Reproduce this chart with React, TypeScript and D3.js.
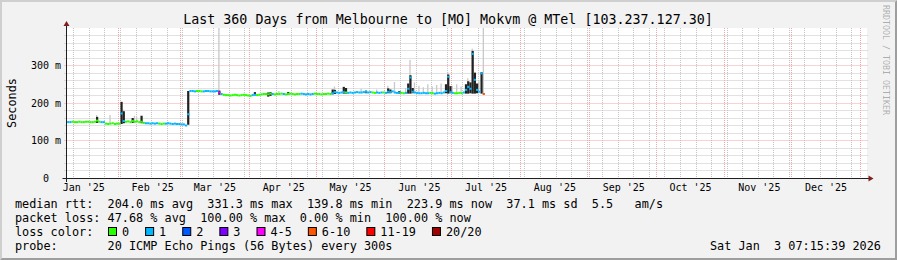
import React from "react";
import * as d3 from "d3";

const W = 897;
const H = 260;
const FONT = "'DejaVu Sans Mono', monospace";

const title = "Last 360 Days from Melbourne to [MO] Mokvm @ MTel [103.237.127.30]";
const yTickValues = [0, 100, 200, 300];
const yTickLabels = ["0", "100 m", "200 m", "300 m"];
const yMinorStep = 20;
const yMax = 400;

// time window of the graph (UTC)
const windowStart = "2025-01-08T17:17:00Z";
const windowDays = 360;

// daily samples, first sample on this day
const firstSample = "2025-01-08";
// median rtt in ms, one value per day
const medianMs = [
  150, 149, 149, 150, 149, 149, 150, 149, 149, 150, 150, 149, 149, 150, 153, 150, 149, 149,
  145, 144, 145, 146, 144, 145, 145,
  172, 152, 150, 151, 149, 152, 150, 151, 149, 150,
  147, 146, 146, 145, 146, 145, 146, 145, 144, 145, 145, 146, 145, 144, 145, 144, 144, 143, 143, 140,
  170,
  232, 232, 231, 232, 232, 231, 231, 232, 232, 231, 231, 231, 232,
  228,
  224, 222, 221, 221, 220, 221, 222, 221, 220, 221, 222, 221, 220, 219, 221, 222, 221, 222,
  223, 224, 224, 223, 225, 224, 223, 224, 224, 225, 224, 223, 224, 225, 224, 223, 224, 224,
  225, 224, 223, 224, 223, 224, 225, 224, 224, 223, 224, 224, 225, 224,
  226, 229, 228, 227, 228, 229, 228, 227, 228, 227, 228, 229, 228, 228, 229, 230, 228, 229,
  228, 227, 228, 227, 228, 228, 227, 230, 229, 231, 228, 227, 228, 227, 226, 227,
  238, 268, 230, 228, 227, 226, 226, 227, 226, 226, 227, 226, 225, 226, 227, 226, 228, 232,
  270, 229, 227, 226, 226, 227, 226, 228, 235, 243, 238, 331, 262, 235, 230, 279, 224,
];
// loss category per day (index into lossLabels)
const lossCat = [
  1, 1, 1,
  0, 0, 0, 0, 0, 0, 0, 0, 0, 0, 0, 0, 0,
  1, 1,
  0, 0, 0, 0, 0, 0, 0,
  1, 1,
  0, 0, 0, 0, 0, 0, 0, 0, 0,
  1, 1, 1, 1, 1, 1,
  0, 0, 0,
  1, 1, 1, 1, 1, 1, 1, 1, 1, 1, 1,
  1, 1, 1, 0, 0, 0, 1, 1, 1, 1, 1, 1, 1,
  4,
  1,
  0, 0, 0, 0, 0, 0, 0, 0, 0, 0, 0, 0, 0,
  1, 1,
  0, 0, 0, 0, 0, 0, 0, 1, 0, 0, 0, 0, 1, 0, 0, 0, 0, 0, 0, 0,
  1, 1, 1, 1, 1, 1,
  0, 0, 0, 0, 0, 0, 0, 0,
  1, 1, 1, 1, 1, 1, 0, 1, 1, 1, 1, 1, 1, 1, 1, 1, 1, 1, 0, 0, 1, 1, 1, 0, 1, 1, 1, 1, 1, 1, 1,
  0, 0,
  1, 1, 1, 1, 1, 1, 1, 1, 1, 1, 1,
  0, 0,
  1, 1, 1, 1, 1, 1, 1, 1, 1,
  0, 0, 0, 0,
  1, 1, 1, 1, 1, 1, 1, 1,
  1,
  5,
];

// dense (dark) smoke: day, low ms, high ms
const darkSmokeDays = [
  "2025-01-22", "2025-02-02", "2025-02-03", "2025-02-07", "2025-02-11", "2025-03-04", "2025-03-18",
  "2025-04-03", "2025-04-09", "2025-04-10", "2025-04-18", "2025-05-08", "2025-05-09", "2025-05-13",
  "2025-05-14", "2025-05-23", "2025-06-02", "2025-06-03", "2025-06-07", "2025-06-11", "2025-06-12",
  "2025-06-13", "2025-06-28", "2025-06-29", "2025-06-30", "2025-07-07", "2025-07-08", "2025-07-09",
  "2025-07-10", "2025-07-11", "2025-07-12", "2025-07-14",
];
const darkSmokeLow = [
  147, 144, 146, 147, 146, 142, 222, 221, 217, 219, 222, 223, 224, 225, 225, 226, 226, 226, 225, 225,
  225, 226, 226, 225, 226, 225, 225, 226, 225, 225, 226, 225,
];
const darkSmokeHigh = [
  163, 203, 178, 160, 166, 232, 233, 229, 228, 229, 229, 236, 235, 243, 240, 233, 239, 236, 232, 252,
  274, 240, 250, 276, 245, 250, 258, 255, 339, 281, 252, 282,
];
// light smoke: day, low ms, high ms
const lightSmokeDays = [
  "2025-01-22", "2025-01-28", "2025-02-03", "2025-02-08", "2025-02-09", "2025-03-18", "2025-04-14",
  "2025-05-09", "2025-05-21", "2025-05-28", "2025-06-02", "2025-06-05", "2025-06-10", "2025-06-12",
  "2025-06-14", "2025-06-16", "2025-06-18", "2025-06-20", "2025-06-22", "2025-06-24", "2025-06-26",
  "2025-06-29", "2025-07-01", "2025-07-03", "2025-07-05", "2025-07-08", "2025-07-10", "2025-07-13",
  "2025-07-15",
];
const lightSmokeLow = [
  148, 144, 146, 148, 148, 222, 222, 224, 226, 226, 226, 226, 226, 225, 226, 226, 226, 226, 226, 226,
  226, 226, 226, 226, 226, 225, 225, 226, 224,
];
const lightSmokeHigh = [
  168, 168, 182, 166, 162, 400, 232, 244, 238, 236, 246, 256, 240, 315, 255, 246, 242, 250, 244, 248,
  252, 282, 246, 250, 244, 266, 345, 258, 400,
];

const lossLabels = ["0", "1", "2", "3", "4-5", "6-10", "11-19", "20/20"];
const lossColors = ["#26ff00", "#00b8ff", "#0059ff", "#7e00ff", "#ff00ff", "#ff5500", "#ff0000", "#a00000"];

const medianLegend = "median rtt:  204.0 ms avg  331.3 ms max  139.8 ms min  223.9 ms now  37.1 ms sd  5.5   am/s";
const lossLegend = "packet loss: 47.68 % avg  100.00 % max  0.00 % min  100.00 % now";
const probeLegend = "probe:       20 ICMP Echo Pings (56 Bytes) every 300s";
const stamp = "Sat Jan  3 07:15:39 2026";
const unitLabel = "Seconds";
const watermark = "RRDTOOL / TOBI OETIKER";

const DAY = 86400000;
const X0 = 66.5;
const XSIZE = 800;
const YTOP = 28;
const YBOT = 178;
const LEG_FS = 11.83;
const CW = LEG_FS * 0.602;

export default function App() {
  const t0 = new Date(windowStart);
  const t1 = new Date(t0.getTime() + windowDays * DAY);
  const x = d3.scaleUtc().domain([t0, t1]).range([X0, X0 + XSIZE]);
  const y = d3.scaleLinear().domain([0, yMax]).range([YBOT, YTOP]);
  const gx = (t: Date) => Math.floor(x(t)) + 0.5;
  const gy = (v: number) => Math.floor(y(v)) + 0.5;

  const first = new Date(firstSample + "T00:00:00Z").getTime();
  const samples = medianMs.map((m, i) => ({
    t0: new Date(first + i * DAY),
    t1: new Date(first + (i + 1) * DAY),
    m,
    c: lossCat[i] ?? 0,
  }));

  const weeks = d3.utcSunday.range(t0, t1);
  const months = d3.utcMonth.range(d3.utcMonth.offset(d3.utcMonth.floor(t0), 1), t1);
  const labelMonths = d3
    .utcMonth.range(d3.utcMonth.floor(t0), t1)
    .map((m) => ({ m, cx: x(new Date(m.getTime() + 15.5 * DAY)) }))
    .filter((l) => l.cx < X0 + XSIZE);
  const fmt = d3.utcFormat("%b '%y");
  const minorVals = d3.range(yMinorStep, yMax, yMinorStep).filter((v) => v % 100 !== 0);
  const majorVals = yTickValues.filter((v) => v > 0);

  const dayW = x(new Date(first + DAY)) - x(new Date(first));
  const dayStart = (s: string) => new Date(s + "T00:00:00Z");

  // legend box positions
  const boxes: { x: number; label: string; color: string }[] = [];
  let bx = 108;
  lossLabels.forEach((l, i) => {
    boxes.push({ x: bx, label: l, color: lossColors[i] });
    bx += 14 + l.length * CW + 16;
  });

  return (
    <svg
      width={W}
      height={H}
      viewBox={`0 0 ${W} ${H}`}
      style={{ position: "absolute", left: 0, top: 0, fontFamily: FONT }}
    >
      <defs>
        <clipPath id="plot">
          <rect x={67} y={YTOP} width={XSIZE} height={YBOT - YTOP} />
        </clipPath>
      </defs>
      <rect x={0} y={0} width={W} height={H} fill="#f2f2f2" />
      {/* bevel */}
      <polygon points={`0,${H} 2,${H - 2} 2,2 ${W - 2},2 ${W},0 0,0`} fill="#cfcfcf" />
      <polygon points={`2,${H - 2} ${W - 2},${H - 2} ${W - 2},2 ${W},0 ${W},${H} 0,${H}`} fill="#9e9e9e" />

      <rect x={67} y={YTOP} width={XSIZE} height={YBOT - YTOP} fill="#ffffff" />

      {/* minor grid */}
      <g stroke="#c4c4c4" strokeWidth={1} strokeDasharray="1,1" fill="none">
        {weeks.map((w, i) => (
          <line key={"w" + i} x1={gx(w)} x2={gx(w)} y1={YTOP} y2={YBOT + 2} />
        ))}
        {minorVals.map((v) => (
          <line key={"h" + v} x1={X0 - 2} x2={X0 + XSIZE + 2} y1={gy(v)} y2={gy(v)} />
        ))}
      </g>
      {/* major grid */}
      <g stroke="#f2a6a6" strokeWidth={1} strokeDasharray="1,1" fill="none">
        {months.map((m, i) => (
          <line key={"m" + i} x1={gx(m)} x2={gx(m)} y1={YTOP} y2={YBOT + 2} />
        ))}
        {majorVals.map((v) => (
          <line key={"M" + v} x1={X0 - 2} x2={X0 + XSIZE + 2} y1={gy(v)} y2={gy(v)} />
        ))}
      </g>

      {/* data */}
      <g clipPath="url(#plot)">
        {lightSmokeDays.map((d, i) => {
          const t = dayStart(d);
          return (
            <rect
              key={"ls" + i}
              x={x(t)}
              width={dayW * 0.6}
              y={y(lightSmokeHigh[i])}
              height={y(lightSmokeLow[i]) - y(lightSmokeHigh[i])}
              fill="#c9c9c9"
            />
          );
        })}
        {darkSmokeDays.map((d, i) => {
          const t = dayStart(d);
          return (
            <rect
              key={"ds" + i}
              x={x(t)}
              width={dayW}
              y={y(darkSmokeHigh[i])}
              height={y(darkSmokeLow[i]) - y(darkSmokeHigh[i])}
              fill="#222222"
            />
          );
        })}
        {samples.map((s, i) => (
          <rect
            key={"md" + i}
            x={x(s.t0)}
            width={x(s.t1) - x(s.t0)}
            y={y(s.m) - 1}
            height={2}
            fill={lossColors[s.c]}
          />
        ))}
      </g>

      {/* axes */}
      <g stroke="#1f1f1f" strokeWidth={1}>
        <line x1={X0 - 4} x2={X0 + XSIZE + 4} y1={YBOT + 0.5} y2={YBOT + 0.5} />
        <line x1={X0} x2={X0} y1={YBOT + 4} y2={YTOP - 3} />
      </g>
      <polygon
        points={`${X0 + XSIZE + 2},${YBOT + 0.5 - 3} ${X0 + XSIZE + 2},${YBOT + 0.5 + 3} ${X0 + XSIZE + 7},${YBOT + 0.5}`}
        fill="#801f1f"
      />
      <polygon points={`${X0 - 3},${YTOP - 2} ${X0 + 3},${YTOP - 2} ${X0},${YTOP - 7}`} fill="#801f1f" />

      {/* y labels */}
      <g fontSize={10} fill="#000" textAnchor="end">
        {yTickValues.map((v, i) => (
          <text key={"yl" + v} x={v === 0 ? 61 - 2 * 6.02 : 61} y={gy(v) + 3.7}>
            {yTickLabels[i]}
          </text>
        ))}
      </g>
      {/* x labels */}
      <g fontSize={10} fill="#000" textAnchor="middle">
        {labelMonths.map((l, i) => (
          <text key={"xl" + i} x={l.cx} y={191}>
            {fmt(l.m)}
          </text>
        ))}
      </g>

      <text x={448} y={23.5} fontSize={13.33} textAnchor="middle" fill="#000">
        {title}
      </text>
      <text
        transform={`translate(15.5,${(YTOP + YBOT) / 2}) rotate(-90)`}
        fontSize={LEG_FS}
        textAnchor="middle"
        fill="#000"
      >
        {unitLabel}
      </text>
      <text transform={`translate(883,5) rotate(90)`} fontSize={8.3} fill="#000" fillOpacity={0.3}>
        {watermark}
      </text>

      {/* legend */}
      <g fontSize={LEG_FS} fill="#000" style={{ whiteSpace: "pre" }}>
        <text x={15} y={207.5} xmlSpace="preserve">{medianLegend}</text>
        <text x={15} y={221.5} xmlSpace="preserve">{lossLegend}</text>
        <text x={15} y={235.5} xmlSpace="preserve">loss color:</text>
        {boxes.map((b) => (
          <g key={"b" + b.label}>
            <rect x={b.x + 0.5} y={227.5} width={8} height={8} fill={b.color} stroke="#000" strokeWidth={1} />
            <text x={b.x + 14} y={235.5}>{b.label}</text>
          </g>
        ))}
        <text x={15} y={249.5} xmlSpace="preserve">{probeLegend}</text>
        <text x={710} y={249.5} xmlSpace="preserve">{stamp}</text>
      </g>
    </svg>
  );
}
